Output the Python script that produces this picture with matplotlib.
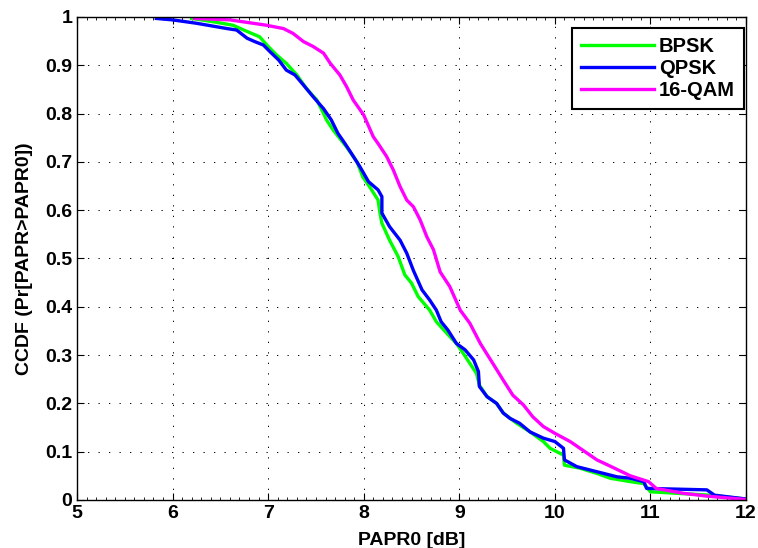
import numpy as np
import matplotlib.pyplot as plt
from matplotlib.ticker import MultipleLocator, FuncFormatter

plt.rcParams['font.family'] = ['Liberation Sans', 'DejaVu Sans']
plt.rcParams['font.weight'] = 'bold'

# CCDF curves (PAPR0 in dB, probability)
bpsk_x = [6.20, 6.43, 6.63, 6.78, 6.91, 7.00, 7.09, 7.19, 7.30, 7.40, 7.51, 7.58,
          7.61, 7.68, 7.82, 7.93, 7.99, 8.06, 8.15, 8.17, 8.19, 8.27, 8.36, 8.43,
          8.50, 8.57, 8.69, 8.76, 8.87, 8.97, 9.04, 9.11, 9.18, 9.21, 9.29, 9.39,
          9.46, 9.60, 9.74, 9.88, 9.95, 10.09, 10.10, 10.26, 10.44, 10.58, 10.79,
          10.93, 11.00, 11.62, 12.00]
bpsk_y = [0.997, 0.990, 0.983, 0.970, 0.959, 0.939, 0.921, 0.904, 0.880, 0.852, 0.828, 0.800,
          0.787, 0.766, 0.731, 0.700, 0.669, 0.649, 0.621, 0.594, 0.573, 0.538, 0.504, 0.466,
          0.449, 0.421, 0.393, 0.369, 0.345, 0.324, 0.304, 0.283, 0.262, 0.238, 0.214, 0.200,
          0.180, 0.159, 0.141, 0.121, 0.107, 0.093, 0.072, 0.066, 0.055, 0.045, 0.038,
          0.034, 0.017, 0.010, 0.002]

qpsk_x = [5.83, 6.00, 6.25, 6.57, 6.67, 6.78, 6.86, 6.95, 7.02, 7.11, 7.19, 7.28, 7.37,
          7.47, 7.58, 7.66, 7.73, 7.79, 7.86, 7.96, 8.05, 8.15, 8.19, 8.19, 8.27, 8.38,
          8.45, 8.52, 8.61, 8.69, 8.76, 8.81, 8.88, 8.97, 9.06, 9.15, 9.20, 9.21, 9.29,
          9.39, 9.46, 9.53, 9.63, 9.74, 9.88, 10.00, 10.09, 10.10, 10.23, 10.37, 10.51,
          10.65, 10.79, 10.93, 10.96, 11.59, 11.67, 12.00]
qpsk_y = [0.997, 0.994, 0.987, 0.976, 0.973, 0.956, 0.949, 0.942, 0.928, 0.911, 0.890, 0.880, 0.859,
          0.835, 0.810, 0.787, 0.759, 0.742, 0.721, 0.690, 0.659, 0.642, 0.628, 0.594, 0.566, 0.538,
          0.511, 0.475, 0.435, 0.414, 0.393, 0.369, 0.352, 0.324, 0.311, 0.290, 0.266, 0.235, 0.214,
          0.200, 0.180, 0.169, 0.159, 0.141, 0.128, 0.121, 0.107, 0.083, 0.069, 0.062, 0.055,
          0.048, 0.045, 0.038, 0.024, 0.021, 0.010, 0.002]

qam16_x = [6.23, 6.60, 6.98, 7.16, 7.26, 7.37, 7.47, 7.58, 7.65, 7.75, 7.82, 7.89, 8.00,
           8.10, 8.15, 8.24, 8.31, 8.38, 8.45, 8.52, 8.59, 8.66, 8.73, 8.80, 8.90, 9.01,
           9.11, 9.22, 9.35, 9.46, 9.56, 9.67, 9.77, 9.88, 10.00, 10.16, 10.30, 10.44,
           10.58, 10.79, 10.98, 11.06, 11.34, 11.59, 12.00]
qam16_y = [0.997, 0.994, 0.983, 0.976, 0.966, 0.949, 0.939, 0.925, 0.904, 0.880, 0.856, 0.828, 0.797,
           0.752, 0.738, 0.711, 0.683, 0.649, 0.621, 0.607, 0.580, 0.545, 0.518, 0.472, 0.442, 0.393,
           0.366, 0.324, 0.283, 0.248, 0.217, 0.197, 0.172, 0.152, 0.138, 0.121, 0.102, 0.083,
           0.070, 0.050, 0.038, 0.024, 0.014, 0.008, 0.001]

fig = plt.figure(figsize=(7.58, 5.48), dpi=100)
ax = fig.add_axes([0.1016, 0.0876, 0.8826, 0.8814])

ax.plot(bpsk_x, bpsk_y, color='#00ff00', lw=2.4, label='BPSK')
ax.plot(qpsk_x, qpsk_y, color='#0000ff', lw=2.4, label='QPSK')
ax.plot(qam16_x, qam16_y, color='#ff00ff', lw=2.4, label='16-QAM')

ax.set_xlim(5, 12)
ax.set_ylim(0, 1)
ax.xaxis.set_major_locator(MultipleLocator(1))
ax.xaxis.set_minor_locator(MultipleLocator(0.1))
ax.yaxis.set_major_locator(MultipleLocator(0.1))
ax.yaxis.set_major_formatter(FuncFormatter(lambda v, p: f"{v:g}"))

# sparse MATLAB-like dotted grid
ax.grid(True, which='major', color='k', linestyle=(0, (1.3, 9.5)), linewidth=0.7)
ax.tick_params(which='both', direction='in', top=True, right=True, labelsize=14)
ax.tick_params(which='major', length=5, width=0.8)
ax.tick_params(which='minor', length=2.5, width=0.6)
for s in ax.spines.values():
    s.set_linewidth(1.0)

ax.set_xlabel('PAPR0 [dB]', fontsize=14, fontweight='bold', labelpad=7)
ax.set_ylabel('CCDF (Pr[PAPR>PAPR0])', fontsize=14, fontweight='bold', labelpad=9)

leg = ax.legend(loc='upper right', bbox_to_anchor=(0.997, 0.977), borderaxespad=0,
                fancybox=False, edgecolor='k', fontsize=14.5, handlelength=3.6,
                handletextpad=0.25, labelspacing=0.15, borderpad=0.45, framealpha=1)
leg.get_frame().set_linewidth(1.5)
for t in leg.get_texts():
    t.set_fontweight('bold')

fig.savefig('out.png', dpi=100)
